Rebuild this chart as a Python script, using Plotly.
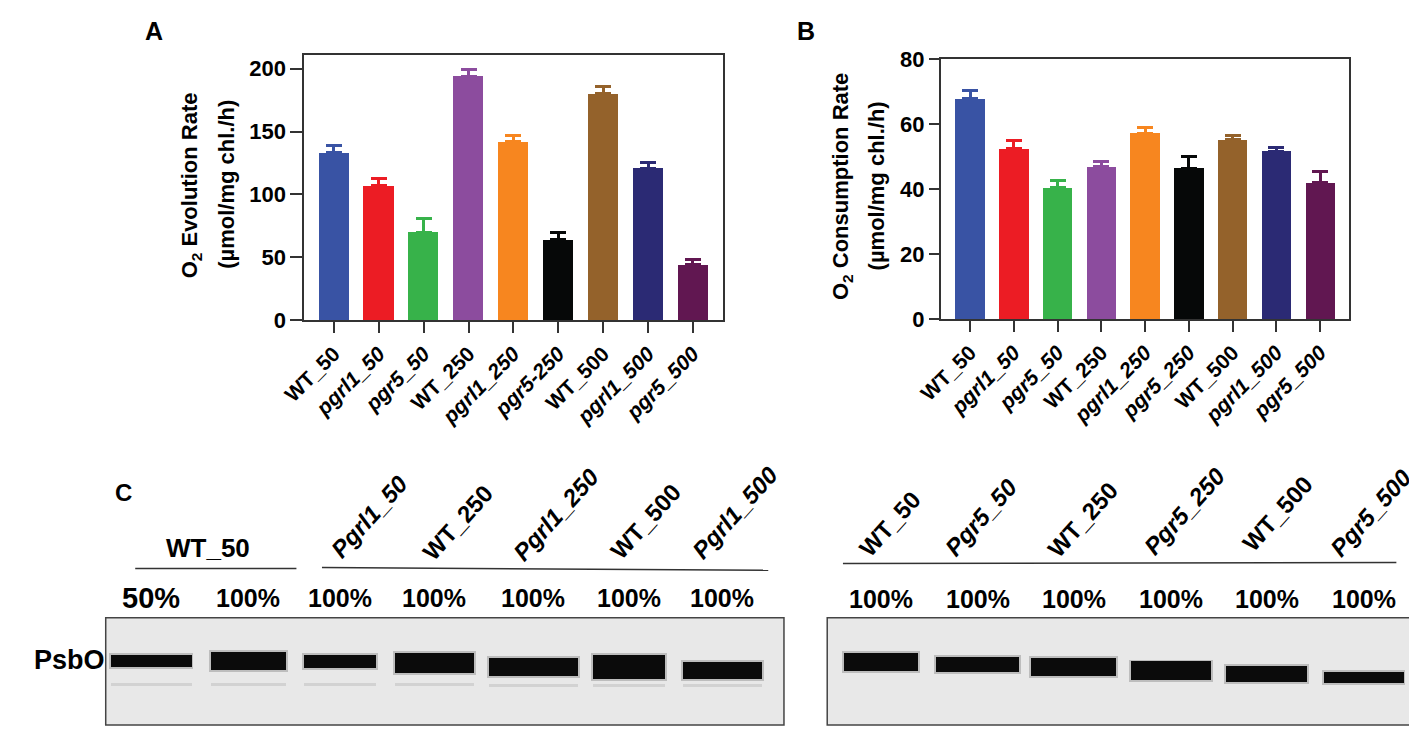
import plotly.graph_objects as go

# the page body keeps its default 8px margin: the figure starts 8px in,
# so reference positions are shifted by that margin
PAGE_W, PAGE_H = 1417, 733
OFF = 8
W, H = PAGE_W - OFF, PAGE_H - OFF
FONT = "Liberation Sans, Arial, sans-serif"

# panel A / B data
groups_a = ["WT_50", "pgrl1_50", "pgr5_50", "WT_250", "pgrl1_250", "pgr5-250", "WT_500", "pgrl1_500", "pgr5_500"]
groups_b = ["WT_50", "pgrl1_50", "pgr5_50", "WT_250", "pgrl1_250", "pgr5_250", "WT_500", "pgrl1_500", "pgr5_500"]
colors = ["#3953a4", "#ec1c24", "#37b24a", "#8c4c9e", "#f7861f", "#060808", "#94622b", "#2b2a74", "#611751"]
evolution = [133, 107, 70, 194, 142, 64, 180, 121, 44]
evolution_err = [5.5, 6, 11, 5, 4.5, 6, 6, 4.6, 4.6]
consumption = [67.8, 52.3, 40.4, 46.8, 57.2, 46.4, 55.2, 51.6, 41.9]
consumption_err = [2.6, 2.5, 2.3, 1.8, 1.7, 3.6, 1.3, 1.1, 3.5]

# panel C data (membrane coordinates, px from blot's top-left corner)
blot1_lanes = ["WT_50", "WT_50", "Pgrl1_50", "WT_250", "Pgrl1_250", "WT_500", "Pgrl1_500"]
blot1_load = ["50%", "100%", "100%", "100%", "100%", "100%", "100%"]
blot1_pos = [46, 145, 238, 334, 435, 532, 627]
blot1_width = [82, 77, 73, 81, 90, 74, 80]
blot1_top = [38, 35, 38, 36, 41, 38, 46]
blot1_thick = [13, 19, 14, 21, 19, 25, 17]
blot1_faint_top = [67, 67, 67, 67, 68, 68, 68]

blot2_lanes = ["WT_50", "Pgr5_50", "WT_250", "Pgr5_250", "WT_500", "Pgr5_500"]
blot2_load = ["100%", "100%", "100%", "100%", "100%", "100%"]
blot2_pos = [55, 153, 251, 350, 447, 546]
blot2_width = [75, 84, 87, 81, 82, 81]
blot2_top = [36, 40, 41, 45, 50, 56]
blot2_thick = [19, 16, 19, 19, 16, 11]


def px(x):
    return min(max((x - OFF) / W, 0), 1)


def py(y):
    return min(max(1 - (y - OFF) / H, 0), 1)


def tick_label(g):
    return "<i>" + g + "</i>" if g.lower().startswith("pgr") else g


fig = go.Figure()

for xa, ya, vals, errs in [("x", "y", evolution, evolution_err), ("x2", "y2", consumption, consumption_err)]:
    for i, (v, e, c) in enumerate(zip(vals, errs, colors)):
        fig.add_trace(go.Bar(
            x=[i], y=[v], width=0.67, xaxis=xa, yaxis=ya, showlegend=False,
            marker=dict(color=c, line=dict(width=0)),
            error_y=dict(type="data", symmetric=False, array=[e], arrayminus=[0],
                         color=c, thickness=3, width=8),
        ))

# blots: soft halo + band + faint lower band
for xa, ya, pos, wid, top, thick in [("x3", "y3", blot1_pos, blot1_width, blot1_top, blot1_thick),
                                     ("x4", "y4", blot2_pos, blot2_width, blot2_top, blot2_thick)]:
    fig.add_trace(go.Bar(x=pos, y=[t + 4 for t in thick], base=[b - 2 for b in top],
                         width=[w + 4 for w in wid], xaxis=xa, yaxis=ya, showlegend=False,
                         marker=dict(color="rgba(60,60,60,0.25)", line=dict(width=0))))
    fig.add_trace(go.Bar(x=pos, y=thick, base=top, width=wid, xaxis=xa, yaxis=ya,
                         showlegend=False, marker=dict(color="#0b0b0b", line=dict(width=0))))

fig.add_trace(go.Bar(x=blot1_pos, y=[3] * len(blot1_pos), base=blot1_faint_top, width=blot1_width,
                     xaxis="x3", yaxis="y3", showlegend=False,
                     marker=dict(color="#d2d2d2", line=dict(width=0))))

line_style = dict(showline=True, linecolor="#333333", linewidth=2, mirror=True,
                  ticks="outside", tickwidth=2, tickcolor="#333333", showgrid=False,
                  zeroline=False)
ytick_font = dict(family=FONT, size=22, color="black", weight="bold")
xtick_font = dict(family=FONT, size=21, color="black", weight="bold")

blot_top = 627
blot_bottom = PAGE_H

fig.update_layout(
    width=W, height=H, autosize=False,
    margin=dict(l=0, r=0, t=0, b=0),
    paper_bgcolor="white", plot_bgcolor="white",
    barmode="overlay", bargap=0,
    font=dict(family=FONT, color="black"),
    xaxis=dict(domain=[px(285), px(711)], range=[-0.66, 8.67], tickvals=list(range(9)),
               ticktext=[tick_label(g) for g in groups_a], tickangle=-45, ticklen=11,
               tickfont=xtick_font, anchor="y", **line_style),
    yaxis=dict(domain=[py(319), py(44)], range=[0, 211], tickvals=[0, 50, 100, 150, 200],
               ticklen=12, tickfont=ytick_font, anchor="x", **line_style),
    xaxis2=dict(domain=[px(932.7), px(1348.3)], range=[-0.665, 8.67], tickvals=list(range(9)),
                ticktext=[tick_label(g) for g in groups_b], tickangle=-45, ticklen=11,
                tickfont=xtick_font, anchor="y2", **line_style),
    yaxis2=dict(domain=[py(317.7), py(48.3)], range=[0, 80], tickvals=[0, 20, 40, 60, 80],
                ticklen=10, tickfont=ytick_font, anchor="x2", **line_style),
    xaxis3=dict(domain=[px(83), px(773)], range=[0, 690], visible=False, anchor="y3"),
    yaxis3=dict(domain=[py(blot_bottom), py(blot_top)], range=[blot_bottom - blot_top, 0],
                visible=False, anchor="x3"),
    xaxis4=dict(domain=[px(817), px(1415)], range=[0, 598], visible=False, anchor="y4"),
    yaxis4=dict(domain=[py(blot_bottom), py(blot_top)], range=[blot_bottom - blot_top, 0],
                visible=False, anchor="x4"),
)

shapes = []
for xr, yr in [("x3", "y3"), ("x4", "y4")]:
    shapes.append(dict(type="rect", xref=xr + " domain", yref=yr + " domain",
                       x0=0, x1=1, y0=-0.05, y1=1, fillcolor="#e8e8e8", layer="below",
                       line=dict(color="#444444", width=1.5)))
for x0, y0, x1, y1 in [(113, 576, 277, 576), (303, 575, 757, 578), (833, 571, 1396, 570)]:
    shapes.append(dict(type="line", xref="paper", yref="paper", x0=px(x0), y0=py(y0),
                       x1=px(x1), y1=py(y1), line=dict(color="#333333", width=1.5)))
fig.update_layout(shapes=shapes)


def note(text, x, y, size, angle=0, xref="paper"):
    fig.add_annotation(text=text, x=x if xref != "paper" else px(x), y=py(y), xref=xref, yref="paper",
                       showarrow=False, textangle=angle, xanchor="center", yanchor="middle",
                       font=dict(family=FONT, size=size, color="black", weight="bold"))


note("A", 132, 19, 25)
note("B", 795, 19, 25)
note("C", 101, 497, 24)
note("O<sub>2</sub> Evolution Rate", 170, 179, 22, -90)
note("(µmol/mg chl./h)", 205, 178, 22, -90)
note("O<sub>2</sub> Consumption Rate", 832, 180, 22, -90)
note("(µmol/mg chl./h)", 867, 180, 22, -90)
note("PsbO", 46, 671, 27)
note("WT_50", 187, 555, 26)

rot1 = [(351, 522), (441, 528), (541, 520), (632, 527), (723, 518)]
for lab, (x, y) in zip(blot1_lanes[2:], rot1):
    note(tick_label(lab), x, y, 24, -48)
rot2 = [(880, 530), (973, 523), (1077, 525), (1180, 517), (1275, 519), (1370, 518)]
for lab, (x, y) in zip(blot2_lanes, rot2):
    note(tick_label(lab), x, y, 24, -48)

for lab, x in zip(blot1_load, blot1_pos):
    note(lab, x, 607, 29 if lab == "50%" else 25, xref="x3")
for lab, x in zip(blot2_load, blot2_pos):
    note(lab, x, 608, 25, xref="x4")

fig.write_html("out.html")
